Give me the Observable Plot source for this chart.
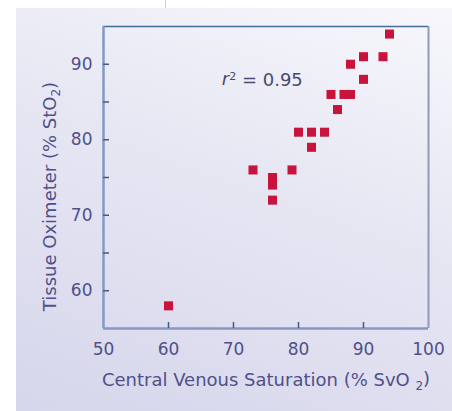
<!DOCTYPE html>
<html>
<head>
<meta charset="utf-8">
<script src="https://cdn.jsdelivr.net/npm/d3@7"></script>
<script src="https://cdn.jsdelivr.net/npm/@observablehq/plot@0.6"></script>
<style>
  html, body { margin: 0; padding: 0; background: #ffffff; }
  #wrap { position: relative; width: 452px; height: 411px; background: #ffffff; overflow: hidden; }
  #panel { position: absolute; left: 16px; top: 8px; right: 0; bottom: 0;
    background: linear-gradient(200deg, #f7f7fc 0%, #e6e6f3 45%, #d6d6ec 100%); }
  #mark { position: absolute; left: 165px; top: 0; width: 1px; height: 8px; background: #cfcfd6; }
  #chart { position: absolute; left: 0; top: 0; }
</style>
</head>
<body>
<div id="wrap"><div id="panel"></div><div id="mark"></div><div id="chart"></div></div>
<script>
// Data
const svO2 = [60, 73, 76, 76, 76, 79, 80, 82, 82, 84, 85, 86, 87, 88, 88, 90, 90, 93, 94];
const stO2 = [58, 76, 75, 74, 72, 76, 81, 81, 79, 81, 86, 84, 86, 86, 90, 91, 88, 91, 94];
const xTickLabels = [50, 60, 70, 80, 90, 100];
const xTickMarks = [60, 70, 80, 90];
const yTickLabels = [60, 70, 80, 90];
const yTickMarks = [60, 65, 70, 75, 80, 85, 90];
const xLabel = "Central Venous Saturation (% SvO 2)";
const yLabel = "Tissue Oximeter (% StO2)";
const annotation = "r2 = 0.95";

const points = svO2.map((x, i) => ({x, y: stO2[i]}));

const ink = "#50508a";
const axisColor = "#8498c2";

const plot = Plot.plot({
  width: 452,
  height: 411,
  marginLeft: 103,
  marginRight: 24,
  marginTop: 26,
  marginBottom: 83,
  style: {background: "transparent", fontFamily: "'DejaVu Sans', sans-serif", fontSize: "17px", color: ink},
  x: {domain: [50, 100]},
  y: {domain: [55, 95]},
  marks: [
    Plot.ruleY([95], {stroke: "#3f6f92", strokeWidth: 1.5}),
    Plot.ruleX([100], {stroke: "#8d9bba", strokeWidth: 2}),
    Plot.ruleX([50], {stroke: axisColor, strokeWidth: 2.5}),
    Plot.ruleY([55], {stroke: axisColor, strokeWidth: 2.5}),
    Plot.axisX({ticks: xTickMarks, tickSize: 6, dy: -6, tickFormat: () => "", stroke: "#445a86", strokeWidth: 1.5, label: null}),
    Plot.axisY({ticks: yTickMarks, tickSize: 6, dx: 6, tickFormat: () => "", stroke: "#445a86", strokeWidth: 1.5, label: null}),
    Plot.axisX({ticks: xTickLabels, tickSize: 0, tickPadding: 14, fill: ink, fontSize: 17, label: null}),
    Plot.axisY({ticks: yTickLabels, tickSize: 0, tickPadding: 11, fill: ink, fontSize: 17, label: null}),
    Plot.dot(points, {x: "x", y: "y", symbol: "square", r: 5.1, fill: "#c8143c", stroke: "none"}),
    Plot.text([annotation], {x: 68.2, y: 88, text: d => d, textAnchor: "start", fill: "#4a4a72", fontSize: 18}),
    Plot.text([xLabel], {frameAnchor: "bottom", dy: 57, text: d => d, textAnchor: "middle", fill: ink, fontSize: 18}),
    Plot.text([yLabel], {frameAnchor: "left", dx: -53, dy: 19, rotate: -90, text: d => d, textAnchor: "middle", fill: ink, fontSize: 18})
  ]
});

document.getElementById("chart").appendChild(plot);

// Rich text: italic r with superscript, subscript 2s
d3.select(plot).selectAll("text").each(function() {
  const t = this.textContent;
  const sel = d3.select(this);
  if (t === annotation) {
    sel.text(null);
    sel.append("tspan").attr("font-style", "italic").text("r");
    sel.append("tspan").attr("font-size", 11).attr("dy", "-0.45em").text("2");
    sel.append("tspan").attr("dy", "0.3em").text(" = 0.95");
  } else if (t === xLabel) {
    sel.text(null);
    sel.append("tspan").text("Central Venous Saturation (% SvO ");
    sel.append("tspan").attr("font-size", 12).attr("dy", "0.35em").text("2");
    sel.append("tspan").attr("dy", "-0.25em").text(")");
  } else if (t === yLabel) {
    sel.text(null);
    sel.append("tspan").text("Tissue Oximeter (% StO");
    sel.append("tspan").attr("font-size", 12).attr("dy", "0.35em").text("2");
    sel.append("tspan").attr("dy", "-0.25em").text(")");
  }
});
</script>
</body>
</html>
